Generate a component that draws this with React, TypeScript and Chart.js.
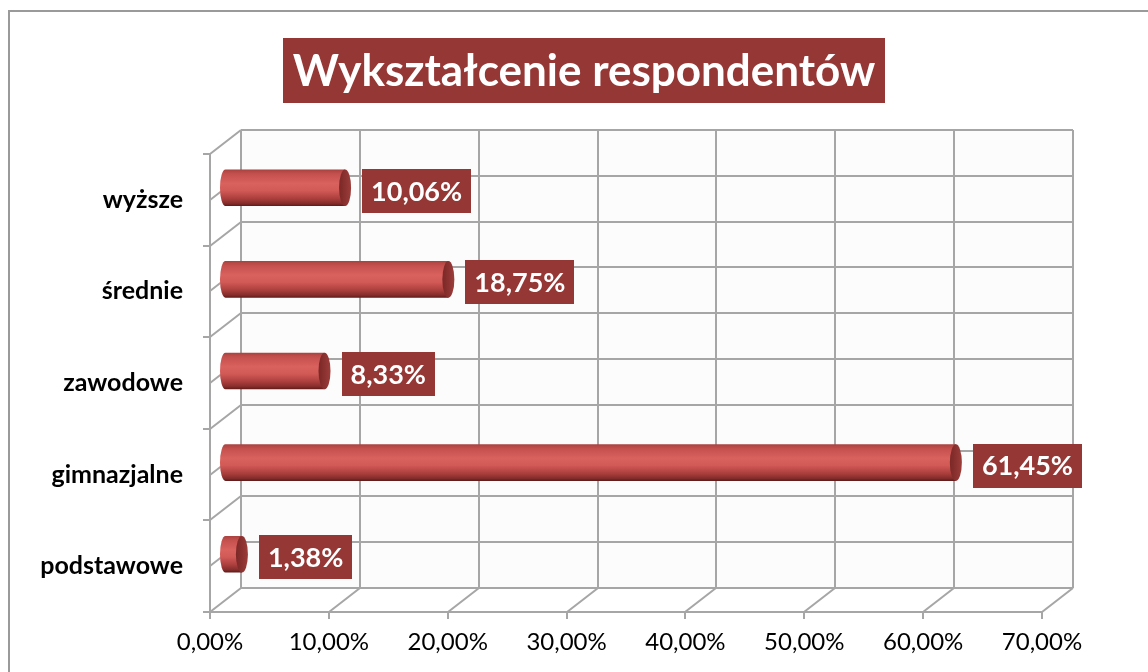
import React, { useEffect, useRef } from 'react';
import { Chart, registerables } from 'chart.js';

Chart.register(...registerables);

const titleText = 'Wykształcenie respondentów';
const categories = ['wyższe', 'średnie', 'zawodowe', 'gimnazjalne', 'podstawowe'];
const values = [10.06, 18.75, 8.33, 61.45, 1.38];
const valueLabels = ['10,06%', '18,75%', '8,33%', '61,45%', '1,38%'];
const xTickValues = [0, 10, 20, 30, 40, 50, 60, 70];
const xTickLabels = ['0,00%', '10,00%', '20,00%', '30,00%', '40,00%', '50,00%', '60,00%', '70,00%'];

const W = 1148;
const H = 672;
const DX = 31;
const DY = -24;
const FONT = 'Lato';
const DARK_RED = '#953735';
const GRID = '#a6a6a6';

const framePlugin = {
  id: 'frame',
  beforeDraw(chart: any) {
    const { ctx } = chart;
    ctx.save();
    ctx.fillStyle = '#ffffff';
    ctx.fillRect(0, 0, W, H);
    ctx.strokeStyle = '#9a9a9a';
    ctx.lineWidth = 2;
    ctx.beginPath();
    ctx.moveTo(9, H + 5);
    ctx.lineTo(9, 11);
    ctx.lineTo(W + 5, 11);
    ctx.stroke();
    // title
    const bx = 283, by = 38, bw = 602, bh = 65;
    ctx.fillStyle = DARK_RED;
    ctx.fillRect(bx, by, bw, bh);
    ctx.fillStyle = '#ffffff';
    ctx.font = `bold 44px ${FONT}`;
    ctx.textAlign = 'center';
    ctx.textBaseline = 'middle';
    ctx.fillText(titleText, bx + bw / 2, by + bh / 2 + 1);
    ctx.restore();
  },
};

const grid3dPlugin = {
  id: 'grid3d',
  beforeDatasetsDraw(chart: any) {
    const { ctx, chartArea: a } = chart;
    const xs = chart.scales.x;
    const ys = chart.scales.y;
    const L = Math.round(a.left);
    const R = Math.round(a.right);
    const T = Math.round(a.top);
    const B = Math.round(a.bottom);
    ctx.save();
    ctx.fillStyle = '#fcfcfc';
    ctx.fillRect(L + DX, T + DY, R - L, B - T);
    ctx.strokeStyle = GRID;
    ctx.lineWidth = 2;
    const n = categories.length;
    const rows: number[] = [];
    for (let i = 0; i <= 2 * n; i++) rows.push(Math.round(ys.getPixelForValue(i / 2 - 0.5)));
    ctx.beginPath();
    rows.forEach((yy) => {
      ctx.moveTo(L + DX, yy + DY);
      ctx.lineTo(R + DX, yy + DY);
    });
    xTickValues.forEach((v) => {
      const px = Math.round(xs.getPixelForValue(v));
      ctx.moveTo(px + DX, T + DY);
      ctx.lineTo(px + DX, B + DY);
    });
    rows.forEach((yy) => {
      ctx.moveTo(L, yy);
      ctx.lineTo(L + DX, yy + DY);
    });
    ctx.moveTo(L, T);
    ctx.lineTo(L, B);
    rows.forEach((yy, i) => {
      if (i % 2 === 0) {
        ctx.moveTo(L - 7, yy);
        ctx.lineTo(L, yy);
      }
    });
    ctx.moveTo(L, B);
    ctx.lineTo(R, B);
    xTickValues.forEach((v) => {
      const px = Math.round(xs.getPixelForValue(v));
      ctx.moveTo(px, B);
      ctx.lineTo(px + DX, B + DY);
      ctx.moveTo(px, B);
      ctx.lineTo(px, B + 7);
    });
    ctx.stroke();
    ctx.restore();
  },
};

const cylinderPlugin = {
  id: 'cylinders',
  afterDatasetsDraw(chart: any) {
    const { ctx } = chart;
    const meta = chart.getDatasetMeta(0);
    const ox = DX / 2;
    const oy = DY / 2;
    ctx.save();
    meta.data.forEach((bar: any, i: number) => {
      const p = bar.getProps(['x', 'y', 'base', 'height'], true);
      const xs = p.base + ox;
      const xe = p.x + ox;
      const cy = p.y + oy;
      const h = p.height;
      const top = cy - h / 2;
      const bot = cy + h / 2;
      const rx = 6;
      const g = ctx.createLinearGradient(0, top, 0, bot);
      g.addColorStop(0, '#a9423f');
      g.addColorStop(0.12, '#c4504d');
      g.addColorStop(0.38, '#d9615e');
      g.addColorStop(0.58, '#d15956');
      g.addColorStop(0.8, '#a93e3c');
      g.addColorStop(0.93, '#842c2b');
      g.addColorStop(1, '#5c1a19');
      ctx.beginPath();
      ctx.moveTo(xs, top);
      ctx.lineTo(xe, top);
      ctx.lineTo(xe, bot);
      ctx.lineTo(xs, bot);
      ctx.ellipse(xs, cy, rx - 0.5, h / 2, 0, Math.PI / 2, (3 * Math.PI) / 2);
      ctx.closePath();
      ctx.fillStyle = g;
      ctx.fill();
      const cg = ctx.createLinearGradient(xe - rx, 0, xe + rx, 0);
      cg.addColorStop(0, '#7a2826');
      cg.addColorStop(0.6, '#8e3432');
      cg.addColorStop(1, '#9c3d3b');
      ctx.beginPath();
      ctx.ellipse(xe, cy, rx, h / 2, 0, 0, Math.PI * 2);
      ctx.fillStyle = cg;
      ctx.fill();

      ctx.font = `bold 27px ${FONT}`;
      const tw = ctx.measureText(valueLabels[i]).width;
      const bw = tw + 18;
      const bh = 44;
      const bx = xe + rx + 11;
      const by = cy + 3 - bh / 2;
      ctx.fillStyle = DARK_RED;
      ctx.fillRect(Math.round(bx), Math.round(by), Math.round(bw), bh);
      ctx.fillStyle = '#ffffff';
      ctx.textAlign = 'center';
      ctx.textBaseline = 'middle';
      ctx.fillText(valueLabels[i], bx + bw / 2, by + bh / 2 + 1);
    });
    ctx.restore();
  },
};

export default function App() {
  const canvasRef = useRef<HTMLCanvasElement | null>(null);

  useEffect(() => {
    document.body.style.margin = '0';
    const canvas = canvasRef.current;
    if (!canvas) return;
    const chart = new Chart(canvas, {
      type: 'bar',
      data: {
        labels: categories,
        datasets: [
          {
            data: values,
            backgroundColor: 'rgba(0,0,0,0)',
            borderWidth: 0,
            barPercentage: 0.4,
            categoryPercentage: 1,
          },
        ],
      },
      options: {
        indexAxis: 'y',
        animation: false,
        responsive: false,
        maintainAspectRatio: false,
        devicePixelRatio: 1,
        layout: { padding: { top: 154, right: 106, bottom: 0, left: 0 } },
        plugins: {
          legend: { display: false },
          title: { display: false },
          tooltip: { enabled: false },
        },
        scales: {
          x: {
            type: 'linear',
            min: 0,
            max: 70,
            afterBuildTicks: (scale: any) => {
              scale.ticks = xTickValues.map((v) => ({ value: v }));
            },
            afterFit: (scale: any) => {
              scale.height = 60;
            },
            grid: { display: false, drawTicks: false },
            border: { display: false },
            ticks: {
              autoSkip: false,
              maxRotation: 0,
              padding: 16,
              color: '#000000',
              font: { family: FONT, size: 24 },
              callback: (_v: any, i: number) => xTickLabels[i],
            },
          },
          y: {
            type: 'category',
            afterFit: (scale: any) => {
              scale.width = 210;
            },
            grid: { display: false, drawTicks: false },
            border: { display: false },
            ticks: {
              padding: 27,
              color: '#000000',
              font: { family: FONT, size: 25, weight: 'bold' },
            },
          },
        },
      },
      plugins: [framePlugin, grid3dPlugin, cylinderPlugin],
    } as any);
    return () => chart.destroy();
  }, []);

  return (
    <div style={{ width: W, height: H }}>
      <canvas ref={canvasRef} width={W} height={H} style={{ display: 'block' }} />
    </div>
  );
}
